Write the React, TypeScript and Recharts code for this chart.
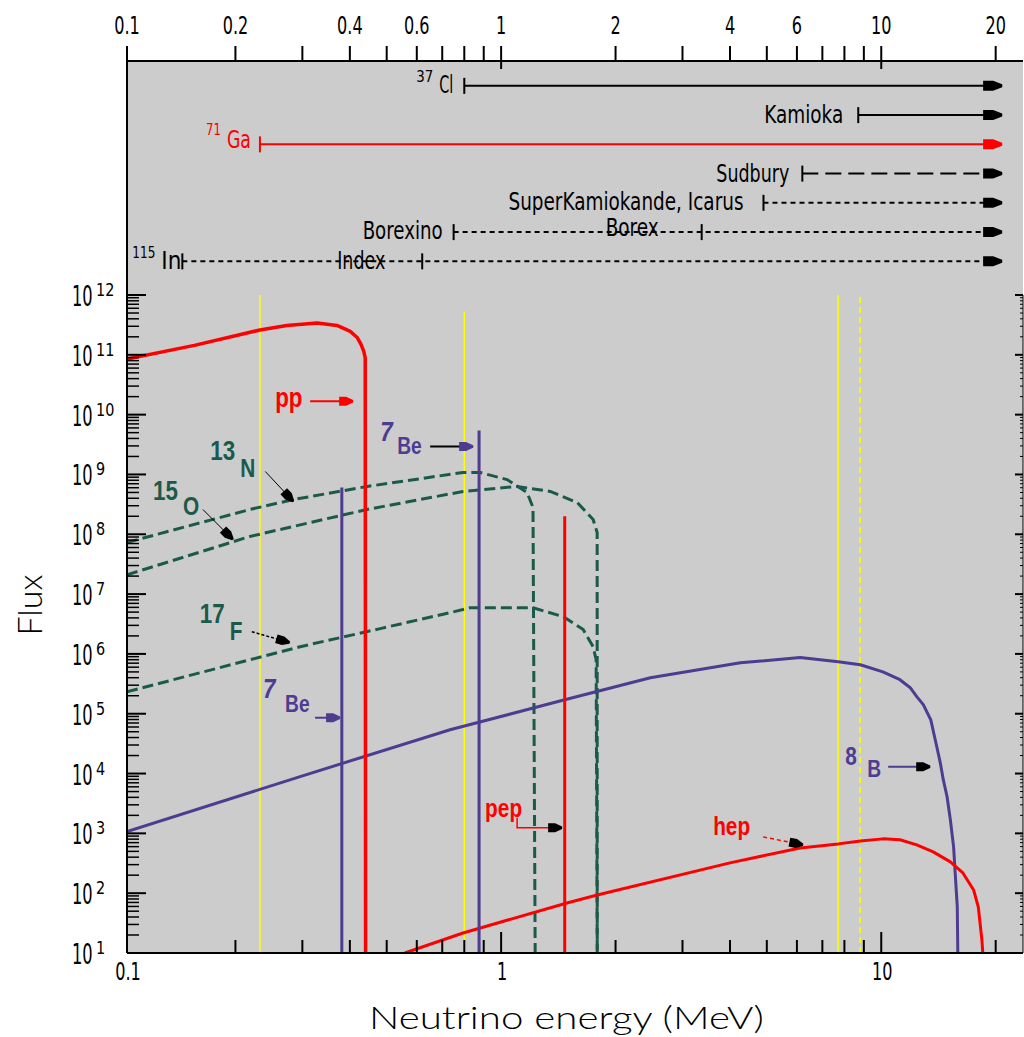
import React from 'react';
import { LineChart, Line, XAxis, YAxis, CartesianGrid, ReferenceDot } from 'recharts';

// ---------------- colours & fonts ----------------
const BLACK = '#000000';
const RED = '#ff0000';
const PURPLE = '#4e3c90';
const GREEN = '#1b5a4a';
const YELLOW = '#ffff00';
const PANEL_BG = '#cccccc';
const NARROW_FONT = "'DejaVu Sans', 'Liberation Sans', sans-serif";
const BOLD_FONT = "'Liberation Sans', Arial, sans-serif";
const TITLE_FONT = "Lato, 'Open Sans', sans-serif";

// ---------------- axis ranges ----------------
const X_MIN = 0.1037; // left edge of the plot (labelled 0.1)
const X_MAX = 23.6;
const Y_MIN = 10;
const Y_MAX = 1e12;

// ---------------- ticks ----------------
const X_TICKS = [X_MIN, 0.2, 0.3, 0.4, 0.5, 0.6, 0.7, 0.8, 0.9, 1, 2, 3, 4, 5, 6, 7, 8, 9, 10, 20];
const X_TOP_LABELS = [X_MIN, 0.2, 0.4, 0.6, 1, 2, 4, 6, 10, 20];
const X_BOTTOM_LABELS = [X_MIN, 1, 10];
const X_LONG_TICKS = [1, 10];
const Y_DECADES = [1e1, 1e2, 1e3, 1e4, 1e5, 1e6, 1e7, 1e8, 1e9, 1e10, 1e11, 1e12];
const Y_EXPONENTS = ['1', '2', '3', '4', '5', '6', '7', '8', '9', '10', '11', '12'];
const Y_MINOR_FACTORS = [2, 3, 4, 5, 6, 7, 8, 9];
const Y_TICKS = Y_DECADES.flatMap((d, i) =>
  i < Y_DECADES.length - 1 ? [d, ...Y_MINOR_FACTORS.map((m) => d * m)] : [d]
);

// ---------------- detectors (top panel) ----------------
const DETECTOR_NAMES = ['Cl', 'Kamioka', 'Ga', 'Sudbury', 'SuperKamiokande, Icarus', 'Borexino', 'In'];
const DETECTOR_ISOTOPES = ['37', '', '71', '', '', '', '115'];
const DETECTOR_THRESHOLDS = [0.8, 8.7, 0.232, 6.2, 4.9, 0.75, 0.145];
const DETECTOR_ROWS = [1, 2, 3, 4, 5, 6, 7];
const DETECTOR_UPPER_E = 20.8;
const SUB_DETECTOR_NAMES = ['Borex', 'Index'];
const SUB_DETECTOR_THRESHOLDS = [3.37, 0.62];
const SUB_DETECTOR_ROWS = [6, 7];

// ---------------- spectra (E in MeV, flux) ----------------
const ppSpectrum = [
  { e: 0.1037, f: 8.5e10 }, { e: 0.156, f: 1.44e11 }, { e: 0.232, f: 2.6e11 }, { e: 0.273, f: 3.1e11 },
  { e: 0.328, f: 3.4e11 }, { e: 0.37, f: 3.1e11 }, { e: 0.401, f: 2.46e11 }, { e: 0.418, f: 1.95e11 },
  { e: 0.428, f: 1.5e11 }, { e: 0.435, f: 1.15e11 }, { e: 0.439, f: 9e10 }, { e: 0.44, f: 10 },
];
const n13Spectrum = [
  { e: 0.1037, f: 7.3e7 }, { e: 0.2185, f: 2.6e8 }, { e: 0.284, f: 3.8e8 }, { e: 0.444, f: 6.3e8 },
  { e: 0.794, f: 1.08e9 }, { e: 0.88, f: 1.08e9 }, { e: 1.037, f: 8.2e8 }, { e: 1.17, f: 5.0e8 },
  { e: 1.213, f: 2.8e8 }, { e: 1.229, f: 10 },
];
const o15Spectrum = [
  { e: 0.1037, f: 2.1e7 }, { e: 0.2185, f: 9.2e7 }, { e: 0.444, f: 2.6e8 }, { e: 0.794, f: 5.2e8 },
  { e: 1.1, f: 6.3e8 }, { e: 1.346, f: 5.2e8 }, { e: 1.585, f: 3.4e8 }, { e: 1.746, f: 1.77e8 },
  { e: 1.789, f: 1.07e8 }, { e: 1.79, f: 10 },
];
const f17Spectrum = [
  { e: 0.1037, f: 2.33e5 }, { e: 0.296, f: 1.32e6 }, { e: 0.481, f: 2.65e6 }, { e: 0.734, f: 4.9e6 },
  { e: 0.829, f: 5.9e6 }, { e: 1.213, f: 5.9e6 }, { e: 1.456, f: 4.2e6 }, { e: 1.644, f: 2.55e6 },
  { e: 1.746, f: 1.32e6 }, { e: 1.778, f: 8.0e5 }, { e: 1.79, f: 10 },
];
const b8Spectrum = [
  { e: 0.1037, f: 1.07e3 }, { e: 0.296, f: 8.9e3 }, { e: 0.734, f: 5.4e4 }, { e: 1.47, f: 1.71e5 },
  { e: 2.47, f: 4.0e5 }, { e: 4.26, f: 7.1e5 }, { e: 6.12, f: 8.7e5 }, { e: 7.71, f: 7.4e5 },
  { e: 8.81, f: 6.6e5 }, { e: 10.1, f: 5.0e5 }, { e: 11.2, f: 3.7e5 }, { e: 11.92, f: 2.72e5 },
  { e: 12.4, f: 1.93e5 }, { e: 12.9, f: 1.42e5 }, { e: 13.5, f: 7.9e4 }, { e: 14.0, f: 2.8e4 },
  { e: 14.3, f: 1.51e4 }, { e: 14.56, f: 7.9e3 }, { e: 14.9, f: 4.1e3 }, { e: 15.2, f: 1.68e3 },
  { e: 15.5, f: 594 }, { e: 15.65, f: 218 }, { e: 15.85, f: 59 }, { e: 15.9, f: 10 },
];
const hepSpectrum = [
  { e: 0.558, f: 10 }, { e: 0.794, f: 21.6 }, { e: 1.49, f: 68.7 }, { e: 1.79, f: 93 },
  { e: 4.0, f: 321 }, { e: 6.12, f: 571 }, { e: 7.71, f: 667 }, { e: 8.81, f: 748 },
  { e: 10.1, f: 809 }, { e: 11.2, f: 781 }, { e: 12.4, f: 642 }, { e: 13.7, f: 490 },
  { e: 15.2, f: 334 }, { e: 16.4, f: 218 }, { e: 17.5, f: 113 }, { e: 18.0, f: 59 },
  { e: 18.4, f: 16.5 }, { e: 18.5, f: 10 },
];
const be7LowLine = [{ e: 0.381, f: 10 }, { e: 0.381, f: 6.05e8 }];
const be7HighLine = [{ e: 0.875, f: 10 }, { e: 0.875, f: 5.45e9 }];
const pepLine = [{ e: 1.47, f: 10 }, { e: 1.47, f: 2.0e8 }];

// detector thresholds drawn in the flux panel
const THRESHOLD_E = [0.232, 0.8, 7.7, 8.8];
const THRESHOLD_TOP = [1e12, 5.3e11, 1e12, 1e12];
const THRESHOLD_DASH = [undefined, undefined, undefined, '6 4'];

// ---------------- styles (not data) ----------------
type DetStyle = { color: string; dash?: string; gap: number; w: number; dy: number; supW?: number; supDy?: number; supGap?: number };
const DETECTOR_STYLE: DetStyle[] = [
  { color: BLACK, gap: 11, w: 14, dy: 7, supW: 17, supDy: -4, supGap: 6 },
  { color: BLACK, gap: 15, w: 79, dy: 8 },
  { color: RED, gap: 9, w: 24, dy: 4, supW: 15, supDy: -9, supGap: 6 },
  { color: BLACK, dash: '16 7', gap: 13, w: 73, dy: 8 },
  { color: BLACK, dash: '5 4', gap: 20, w: 235, dy: 7 },
  { color: BLACK, dash: '5 4', gap: 11, w: 80, dy: 7 },
  { color: BLACK, dash: '5 4', gap: 1, w: 20, dy: 8, supW: 23, supDy: -3, supGap: 6 },
];
const SUB_STYLE = [
  { gap: 43, w: 53, dy: 4 },
  { gap: 37, w: 48, dy: 8 },
];
const LABEL_SIZE = 24;

type Part = { t: string; dx: number; dy: number; size: number; italic?: boolean };
type Ann = { e: number; f: number; color: string; parts: Part[]; path: number[][]; lineColor: string; lineWidth: number; lineDash?: string; headColor: string };
const ANNOTATIONS: Ann[] = [
  { e: 0.408, f: 1.67e10, color: RED, parts: [{ t: 'pp', dx: -78, dy: 6, size: 28 }], path: [[-43, 0], [0, 0]], lineColor: RED, lineWidth: 2, headColor: RED },
  { e: 0.844, f: 2.94e9, color: PURPLE, parts: [{ t: '7', dx: -93, dy: -5, size: 28, italic: true }, { t: 'Be', dx: -76, dy: 8, size: 24 }], path: [[-43, 0], [0, 0]], lineColor: BLACK, lineWidth: 2, headColor: PURPLE },
  { e: 0.284, f: 3.53e8, color: GREEN, parts: [{ t: '13', dx: -83, dy: -42, size: 28 }, { t: 'N', dx: -53, dy: -25, size: 26 }], path: [[-28, -30], [0, 0]], lineColor: BLACK, lineWidth: 1, headColor: BLACK },
  { e: 0.197, f: 8.17e7, color: GREEN, parts: [{ t: '15', dx: -80, dy: -40, size: 28 }, { t: 'O', dx: -50, dy: -25, size: 26 }], path: [[-30, -30], [0, 0]], lineColor: BLACK, lineWidth: 1, headColor: BLACK },
  { e: 0.278, f: 1.54e6, color: GREEN, parts: [{ t: '17', dx: -90, dy: -20, size: 28 }, { t: 'F', dx: -60, dy: -3, size: 26 }], path: [[-38, -11], [0, 0]], lineColor: BLACK, lineWidth: 1.5, lineDash: '3 2', headColor: BLACK },
  { e: 0.377, f: 8.57e4, color: PURPLE, parts: [{ t: '7', dx: -77, dy: -20, size: 28, italic: true }, { t: 'Be', dx: -55, dy: -6, size: 24 }], path: [[-25, 0], [0, 0]], lineColor: PURPLE, lineWidth: 2, headColor: PURPLE },
  { e: 1.447, f: 1.24e3, color: RED, parts: [{ t: 'pep', dx: -77, dy: -11, size: 26 }], path: [[-45, -10], [-45, 0], [0, 0]], lineColor: RED, lineWidth: 1.5, headColor: BLACK },
  { e: 6.23, f: 642, color: RED, parts: [{ t: 'hep', dx: -90, dy: -10, size: 26 }], path: [[-40, -8], [0, 0]], lineColor: RED, lineWidth: 1.5, lineDash: '4 3', headColor: BLACK },
  { e: 13.45, f: 1.3e4, color: PURPLE, parts: [{ t: '8', dx: -85, dy: -2, size: 26 }, { t: 'B', dx: -63, dy: 10, size: 24 }], path: [[-42, 0], [0, 0]], lineColor: PURPLE, lineWidth: 2, headColor: BLACK },
];

const PANEL_HEAD = '0,-1.5 0,1.5 -9,5 -19,5 -19,-5 -9,-5';
const ANN_HEAD = '0,-1.2 0,1.2 -7,4.5 -14,4.5 -14,-4.5 -7,-4.5';

const fmtE = (v: number) => String(Number(v.toPrecision(1)));

const NText = ({ x, y, size, sx, anchor = 'middle', fill = BLACK, family = NARROW_FONT, weight = 'normal', italic = false, children }: any) => (
  <text
    transform={`translate(${x} ${y}) scale(${sx} 1)`}
    textAnchor={anchor}
    fontSize={size}
    fontFamily={family}
    fontWeight={weight}
    fontStyle={italic ? 'italic' : 'normal'}
    fill={fill}
  >
    {children}
  </text>
);

// ---------------- tick renderers ----------------
const TopAxisTick = (props: any) => {
  const { x, y, payload } = props;
  const v = payload.value;
  return (
    <g>
      <line x1={x} x2={x} y1={y} y2={y - 15} stroke={BLACK} strokeWidth={2} />
      {X_LONG_TICKS.includes(v) && <line x1={x} x2={x} y1={y} y2={y + 8} stroke={BLACK} strokeWidth={2} />}
      {X_TOP_LABELS.includes(v) && (
        <NText x={x} y={y - 27} size={24} sx={0.67}>{fmtE(v)}</NText>
      )}
    </g>
  );
};

const InnerTopTick = (props: any) => {
  const { x, y, payload } = props;
  const v = payload.value;
  return <line x1={x} x2={x} y1={y} y2={y + (X_LONG_TICKS.includes(v) ? 23 : 13)} stroke={BLACK} strokeWidth={2} />;
};

const BottomAxisTick = (props: any) => {
  const { x, y, payload } = props;
  const v = payload.value;
  return (
    <g>
      <line x1={x} x2={x} y1={y} y2={y - (X_LONG_TICKS.includes(v) ? 21 : 13)} stroke={BLACK} strokeWidth={2} />
      {X_BOTTOM_LABELS.includes(v) && (
        <NText x={x + 1} y={y + 27} size={24} sx={0.67}>{fmtE(v)}</NText>
      )}
    </g>
  );
};

const LeftTick = (props: any) => {
  const { x, y, payload } = props;
  const k = Y_DECADES.indexOf(payload.value);
  const major = k >= 0;
  return (
    <g>
      <line x1={x} x2={x + (major ? 19 : 12)} y1={y} y2={y} stroke={BLACK} strokeWidth={major ? 2 : 1.5} />
      {major && (
        <g>
          <NText x={x - 55} y={y + 11} size={29} sx={0.56} anchor="start">10</NText>
          <NText x={x - 31} y={y + 1} size={18} sx={0.8} anchor="start">{Y_EXPONENTS[k]}</NText>
        </g>
      )}
    </g>
  );
};

const RightTick = (props: any) => {
  const { x, y, payload } = props;
  const major = Y_DECADES.includes(payload.value);
  return <line x1={x} x2={x - (major ? 8 : 3)} y1={y} y2={y} stroke={BLACK} strokeWidth={major ? 2 : 1} />;
};

// ---------------- top-panel marks ----------------
const makeDetectorDot = (i: number) => (p: any) => {
  const { cx, cy, index } = p;
  const st = DETECTOR_STYLE[i];
  if (index === 0) {
    const start = cx - st.gap - st.w;
    const iso = DETECTOR_ISOTOPES[i];
    return (
      <g key={`det-${i}-start`}>
        <line x1={cx} x2={cx} y1={cy - 8} y2={cy + 8} stroke={st.color} strokeWidth={2} />
        <text x={start} y={cy + st.dy} textLength={st.w} lengthAdjust="spacingAndGlyphs" fontFamily={NARROW_FONT} fontSize={LABEL_SIZE} fill={st.color}>
          {DETECTOR_NAMES[i]}
        </text>
        {iso && (
          <text x={start - (st.supGap || 4) - (st.supW || 0)} y={cy + (st.supDy || 0)} textLength={st.supW} lengthAdjust="spacingAndGlyphs" fontFamily={NARROW_FONT} fontSize={15} fill={st.color}>
            {iso}
          </text>
        )}
      </g>
    );
  }
  return <polygon key={`det-${i}-end`} points={PANEL_HEAD} transform={`translate(${cx} ${cy})`} fill={st.color} />;
};

const SubDetectorShape = (p: any) => {
  const { cx, cy, i } = p;
  const st = SUB_STYLE[i];
  return (
    <g>
      <line x1={cx} x2={cx} y1={cy - 8} y2={cy + 8} stroke={BLACK} strokeWidth={2} />
      <text x={cx - st.gap - st.w} y={cy + st.dy} textLength={st.w} lengthAdjust="spacingAndGlyphs" fontFamily={NARROW_FONT} fontSize={LABEL_SIZE} fill={BLACK}>
        {SUB_DETECTOR_NAMES[i]}
      </text>
    </g>
  );
};

// ---------------- flux-panel annotations ----------------
const AnnotationShape = (p: any) => {
  const { cx, cy, a } = p as { cx: number; cy: number; a: Ann };
  const pts = a.path.map(([dx, dy]) => `${cx + dx},${cy + dy}`).join(' ');
  const [px, py] = a.path[a.path.length - 2];
  const [tx, ty] = a.path[a.path.length - 1];
  const ang = (Math.atan2(ty - py, tx - px) * 180) / Math.PI;
  return (
    <g>
      <polyline points={pts} fill="none" stroke={a.lineColor} strokeWidth={a.lineWidth} strokeDasharray={a.lineDash} />
      <polygon points={ANN_HEAD} transform={`translate(${cx + tx} ${cy + ty}) rotate(${ang})`} fill={a.headColor} />
      {a.parts.map((pt, j) => (
        <NText key={j} x={cx + pt.dx} y={cy + pt.dy} size={pt.size} sx={0.8} anchor="start" family={BOLD_FONT} weight="bold" italic={!!pt.italic} fill={a.color}>
          {pt.t}
        </NText>
      ))}
    </g>
  );
};

const AXIS_LINE = { stroke: BLACK, strokeWidth: 2 };

function DetectorPanel() {
  return (
    <LineChart width={1024} height={295} margin={{ top: 0, right: 1, bottom: 0, left: 0 }}>
      <CartesianGrid fill={PANEL_BG} horizontal={false} vertical={false} />
      <XAxis
        xAxisId={0}
        type="number"
        dataKey="e"
        scale="log"
        domain={[X_MIN, X_MAX]}
        allowDataOverflow
        orientation="top"
        height={61}
        ticks={X_TICKS}
        interval={0}
        tickSize={0}
        tickMargin={0}
        tickLine={false}
        axisLine={AXIS_LINE}
        tick={TopAxisTick}
      />
      <YAxis yAxisId={0} type="number" domain={[0.15, 8.15]} reversed allowDataOverflow width={127} tick={false} tickLine={false} axisLine={AXIS_LINE} />
      {DETECTOR_NAMES.map((name, i) => (
        <Line
          key={name}
          xAxisId={0}
          yAxisId={0}
          data={[
            { e: DETECTOR_THRESHOLDS[i], row: DETECTOR_ROWS[i] },
            { e: DETECTOR_UPPER_E, row: DETECTOR_ROWS[i] },
          ]}
          dataKey="row"
          type="linear"
          stroke={DETECTOR_STYLE[i].color}
          strokeWidth={2}
          strokeDasharray={DETECTOR_STYLE[i].dash}
          dot={makeDetectorDot(i)}
          activeDot={false}
          isAnimationActive={false}
        />
      ))}
      {SUB_DETECTOR_NAMES.map((name, i) => (
        <ReferenceDot
          key={name}
          xAxisId={0}
          yAxisId={0}
          x={SUB_DETECTOR_THRESHOLDS[i]}
          y={SUB_DETECTOR_ROWS[i]}
          r={0}
          shape={(p: any) => <SubDetectorShape {...p} i={i} />}
        />
      ))}
    </LineChart>
  );
}

function FluxPanel() {
  const spectra = [
    { key: 'n13', data: n13Spectrum, color: GREEN, dash: '11 5', w: 3 },
    { key: 'o15', data: o15Spectrum, color: GREEN, dash: '11 5', w: 3 },
    { key: 'f17', data: f17Spectrum, color: GREEN, dash: '11 5', w: 3 },
    { key: 'b8', data: b8Spectrum, color: PURPLE, w: 3 },
    { key: 'hep', data: hepSpectrum, color: RED, w: 3 },
    { key: 'pp', data: ppSpectrum, color: RED, w: 3.5 },
    { key: 'be7l', data: be7LowLine, color: PURPLE, w: 3 },
    { key: 'be7h', data: be7HighLine, color: PURPLE, w: 3 },
    { key: 'pep', data: pepLine, color: RED, w: 3 },
  ];
  return (
    <LineChart width={1024} height={1037} margin={{ top: 295, right: 0, bottom: 0, left: 0 }}>
      <CartesianGrid xAxisId={0} yAxisId={0} fill={PANEL_BG} horizontal={false} vertical={false} />
      <XAxis
        xAxisId={0}
        type="number"
        dataKey="e"
        scale="log"
        domain={[X_MIN, X_MAX]}
        allowDataOverflow
        orientation="bottom"
        height={84}
        ticks={X_TICKS}
        interval={0}
        tickSize={0}
        tickMargin={0}
        tickLine={false}
        axisLine={AXIS_LINE}
        tick={BottomAxisTick}
        label={{
          value: 'Neutrino energy (MeV)',
          content: () => (
            <text x={369} y={1029} textLength={395} lengthAdjust="spacingAndGlyphs" fontFamily={TITLE_FONT} fontWeight={300} fontSize={32} fill={BLACK}>
              Neutrino energy (MeV)
            </text>
          ),
        }}
      />
      <XAxis
        xAxisId="top"
        type="number"
        dataKey="e"
        scale="log"
        domain={[X_MIN, X_MAX]}
        allowDataOverflow
        orientation="top"
        height={0}
        ticks={X_TICKS}
        interval={0}
        tickSize={0}
        tickMargin={0}
        tickLine={false}
        axisLine={AXIS_LINE}
        tick={InnerTopTick}
      />
      <YAxis
        yAxisId={0}
        type="number"
        scale="log"
        domain={[Y_MIN, Y_MAX]}
        allowDataOverflow
        width={127}
        ticks={Y_TICKS}
        interval={0}
        tickSize={0}
        tickMargin={0}
        tickLine={false}
        axisLine={AXIS_LINE}
        tick={LeftTick}
        label={{
          value: 'Flux',
          content: () => (
            <text transform="translate(42 605) rotate(-90)" textAnchor="middle" fontFamily={TITLE_FONT} fontWeight={300} fontSize={34} fill={BLACK}>
              Flux
            </text>
          ),
        }}
      />
      <YAxis
        yAxisId="right"
        orientation="right"
        type="number"
        scale="log"
        domain={[Y_MIN, Y_MAX]}
        allowDataOverflow
        width={1}
        ticks={Y_TICKS}
        interval={0}
        tickSize={0}
        tickMargin={0}
        tickLine={false}
        axisLine={{ stroke: BLACK, strokeWidth: 1 }}
        tick={RightTick}
      />
      {THRESHOLD_E.map((e, i) => (
        <Line
          key={`thr-${i}`}
          xAxisId={0}
          yAxisId={0}
          data={[{ e, f: Y_MIN }, { e, f: THRESHOLD_TOP[i] }]}
          dataKey="f"
          type="linear"
          stroke={YELLOW}
          strokeWidth={1.5}
          strokeDasharray={THRESHOLD_DASH[i]}
          dot={false}
          activeDot={false}
          isAnimationActive={false}
        />
      ))}
      {spectra.map((s) => (
        <Line
          key={s.key}
          xAxisId={0}
          yAxisId={0}
          data={s.data}
          dataKey="f"
          type="linear"
          stroke={s.color}
          strokeWidth={s.w}
          strokeDasharray={s.dash}
          strokeLinejoin="round"
          dot={false}
          activeDot={false}
          isAnimationActive={false}
        />
      ))}
      {ANNOTATIONS.map((a, i) => (
        <ReferenceDot key={`ann-${i}`} xAxisId={0} yAxisId={0} x={a.e} y={a.f} r={0} shape={(p: any) => <AnnotationShape {...p} a={a} />} />
      ))}
    </LineChart>
  );
}

export default function App() {
  return (
    <div style={{ position: 'absolute', left: 0, top: 0, width: 1024, height: 1037, background: '#ffffff', overflow: 'hidden' }}>
      <div style={{ position: 'absolute', left: 0, top: 0 }}>
        <DetectorPanel />
      </div>
      <div style={{ position: 'absolute', left: 0, top: 0 }}>
        <FluxPanel />
      </div>
    </div>
  );
}
